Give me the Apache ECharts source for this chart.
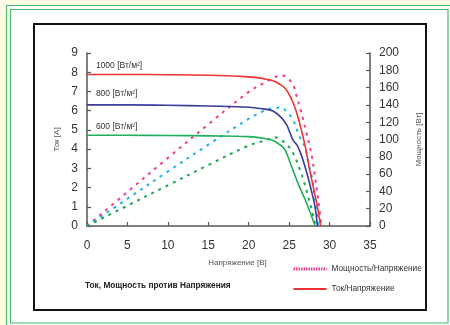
<!DOCTYPE html>
<html>
<head>
<meta charset="utf-8">
<script src="https://cdn.jsdelivr.net/npm/echarts@6/dist/echarts.min.js"></script>
<style>
  html, body { margin: 0; padding: 0; background: #fffbe3; }
  #chart { width: 450px; height: 325px; }
</style>
</head>
<body>
<div id="chart"></div>
<script>
// I-V and P-V characteristics of a PV module at three irradiance levels

const xTicks = [0, 5, 10, 15, 20, 25, 30, 35];

// 1000 W/m²
const v1000I = [0, 5, 10, 15, 20, 21, 22, 23, 24, 24.5, 25, 25.5, 26, 26.5, 27, 27.5, 27.8, 28.2, 28.5, 28.9];
const i1000  = [7.88, 7.88, 7.87, 7.84, 7.76, 7.72, 7.65, 7.55, 7.33, 7.17, 6.85, 6.4, 5.8, 5.0, 4.13, 3.0, 2.4, 1.6, 1.0, 0];
const v1000P = [0, 5, 10, 15, 20, 22, 23, 24, 24.7, 25.5, 25.9, 26.3, 26.7, 27.1, 27.5, 27.9, 28.2, 28.6, 29.0];
const p1000  = [0, 39.4, 78.7, 117.6, 155, 166, 171, 174, 172, 163, 151, 138, 124.5, 109, 94, 76, 57, 30, 0];

// 800 W/m²
const v800I = [0, 5, 10, 15, 20, 22, 23, 24, 24.7, 25.1, 25.5, 26, 26.5, 27.2, 27.8, 28.2, 28.5];
const i800  = [6.30, 6.30, 6.28, 6.24, 6.18, 6.08, 5.98, 5.65, 5.26, 4.85, 4.45, 4.2, 3.7, 2.74, 1.75, 1.0, 0];
const v800P = [0, 5, 10, 15, 20, 21.6, 22.8, 24, 24.8, 25.5, 25.9, 26.3, 27.0, 27.3, 27.8, 28.1, 28.4, 28.6];
const p800  = [0, 31.5, 63, 94, 124, 132, 136, 137, 131, 122.5, 113, 103, 90, 76, 57, 38, 17, 0];

// 600 W/m²
const v600I = [0, 5, 10, 15, 20, 22, 23, 24, 24.5, 25.3, 26.1, 27, 27.8, 28.2];
const i600  = [4.72, 4.72, 4.71, 4.69, 4.65, 4.55, 4.45, 4.18, 3.96, 3.1, 2.22, 1.35, 0.48, 0];
const v600P = [0, 5, 10, 15, 20, 22.2, 23.25, 24.3, 25.1, 25.7, 26.5, 26.9, 27.3, 27.7, 28.1, 28.3];
const p600  = [0, 23.5, 47, 70.5, 93, 99.5, 102.5, 97.5, 90, 80, 61, 49, 36, 22, 7, 0];

// curve captions: [text, voltage, current]
const curveLabels = [
  ['1000 [Вт/м²]', 1.1, 8.33],
  ['800 [Вт/м²]', 1.1, 6.87],
  ['600 [Вт/м²]', 1.1, 5.16]
];

const legendPower = 'Мощность/Напряжение';
const legendCurrent = 'Ток/Напряжение';

const zip = (xs, ys) => xs.map((x, k) => [x, ys[k]]);

const axisGray = '#555555';
const font = 'Liberation Sans, Arial, sans-serif';

function currentSeries(name, xs, ys, color) {
  return {
    name: name, type: 'line', yAxisIndex: 0, data: zip(xs, ys),
    showSymbol: false, symbol: 'none', smooth: 0.35,
    lineStyle: { color: color, width: 1.6 }, itemStyle: { color: color }, z: 3
  };
}
function powerSeries(name, xs, ys, color) {
  return {
    name: name, type: 'line', yAxisIndex: 1, data: zip(xs, ys),
    showSymbol: false, symbol: 'none', smooth: 0.35,
    lineStyle: { color: color, width: 2, type: [3, 5] }, itemStyle: { color: color }, z: 2
  };
}

const chart = echarts.init(document.getElementById('chart'), null, { renderer: 'canvas' });

chart.setOption({
  backgroundColor: '#fffbe3',
  animation: false,
  textStyle: { fontFamily: font },
  title: {
    text: 'Ток, Мощность против Напряжения',
    left: 85, top: 282, padding: 0,
    textStyle: { fontSize: 8.3, fontWeight: 'bold', color: '#222', fontFamily: font }
  },
  legend: {
    data: [
      { name: legendPower, lineStyle: { width: 3, type: [1.5, 1] } },
      { name: legendCurrent, lineStyle: { width: 2 } }
    ],
    orient: 'vertical',
    left: 292, top: 265, padding: 0,
    itemWidth: 33, itemHeight: 10, itemGap: 12,
    itemStyle: { opacity: 0 },
    textStyle: { fontSize: 8.3, color: '#333', fontFamily: font }
  },
  grid: { left: 87, right: 80, top: 53, bottom: 99, containLabel: false },
  xAxis: {
    type: 'value', min: 0, max: 35, interval: 5,
    name: 'Напряжение [В]', nameLocation: 'middle', nameGap: 33,
    nameTextStyle: { fontSize: 8, color: '#555', padding: [0, 0, 0, 18] },
    axisLine: { lineStyle: { color: axisGray, width: 1.5 } },
    axisTick: { inside: true, length: 4, lineStyle: { color: axisGray, width: 1.2 } },
    axisLabel: { fontSize: 12, color: '#333', margin: 14,
      formatter: v => xTicks.includes(v) ? String(v) : '' },
    splitLine: { show: false }
  },
  yAxis: [
    {
      type: 'value', min: 0, max: 9, interval: 1, position: 'left',
      name: 'Ток [А]', nameLocation: 'middle', nameGap: 26, nameRotate: 90,
      nameTextStyle: { fontSize: 8, color: '#555' },
      axisLine: { show: true, lineStyle: { color: axisGray, width: 1.5 } },
      axisTick: { show: true, inside: true, length: 4, lineStyle: { color: axisGray, width: 1.2 } },
      axisLabel: { fontSize: 12, color: '#333', margin: 9 },
      splitLine: { show: false }
    },
    {
      type: 'value', min: 0, max: 200, interval: 20, position: 'right',
      name: 'Мощность [Вт]', nameLocation: 'middle', nameGap: 45, nameRotate: 90,
      nameTextStyle: { fontSize: 8, color: '#555' },
      axisLine: { show: true, lineStyle: { color: axisGray, width: 1.5 } },
      axisTick: { show: true, inside: true, length: 4, lineStyle: { color: axisGray, width: 1.2 } },
      axisLabel: { fontSize: 12, color: '#333', margin: 9 },
      splitLine: { show: false }
    }
  ],
  series: [
    powerSeries(legendPower, v1000P, p1000, '#ee3d97'),
    powerSeries('P 800', v800P, p800, '#22b2ee'),
    powerSeries('P 600', v600P, p600, '#1fa955'),
    currentSeries(legendCurrent, v1000I, i1000, '#ee3333'),
    currentSeries('I 800', v800I, i800, '#3b3c9c'),
    currentSeries('I 600', v600I, i600, '#1fae5a')
  ]
});

// frames and curve captions
const captionEls = curveLabels.map(([txt, v, a]) => {
  const p = chart.convertToPixel({ xAxisIndex: 0, yAxisIndex: 0 }, [v, a]);
  return {
    type: 'text', x: p[0], y: p[1], z: 10,
    style: { text: txt, fontSize: 8.5, fill: '#333', fontFamily: font, verticalAlign: 'middle', align: 'left' }
  };
});

chart.setOption({
  graphic: [
    { type: 'rect', z: -5, shape: { x: 6.5, y: 5.5, width: 450, height: 325 },
      style: { fill: '#ffffff', stroke: '#49bf6e', lineWidth: 1.2 } },
    { type: 'rect', z: -4, shape: { x: 10.5, y: 9.5, width: 437.5, height: 313.5 },
      style: { fill: 'none', stroke: '#49bf6e', lineWidth: 1.2 } },
    { type: 'rect', z: -3, shape: { x: 34, y: 24, width: 392, height: 286 },
      style: { fill: '#ffffff', stroke: '#111111', lineWidth: 2 } }
  ].concat(captionEls)
});
</script>
</body>
</html>
